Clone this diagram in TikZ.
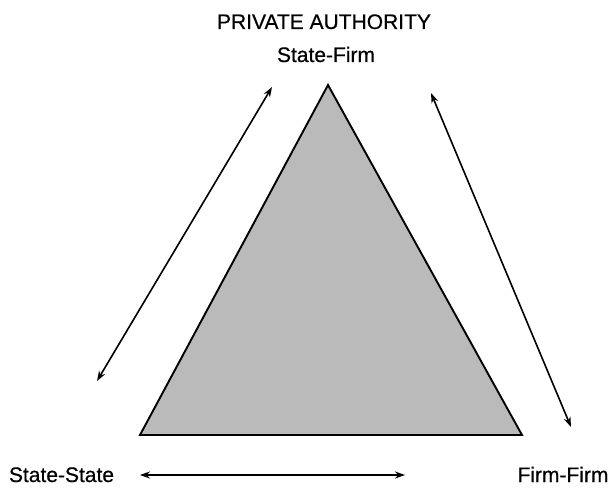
\documentclass[tikz,border=0pt]{standalone}
\usepackage{fontspec}
\setmainfont{Liberation Sans}
\newfontfamily\lblfont{Liberation Sans}[FakeBold=0.5]
\usetikzlibrary{arrows.meta}
\begin{document}
\begin{tikzpicture}[x=1pt,y=-1pt,
  lbl/.style={font=\lblfont\fontsize{21}{25}\selectfont, inner sep=0pt, anchor=base},
  conn/.style={line width=1.6pt, {Stealth[length=10pt,width=7pt]}-{Stealth[length=10pt,width=7pt]}},
  tri/.style={draw=black, line width=1.9pt, fill=black!27, line join=miter}]
\useasboundingbox (0,0) rectangle (612,487);
\coordinate (A) at (328,85);
\coordinate (B) at (140,435);
\coordinate (C) at (522,435);
\filldraw[tri] (A) -- (B) -- (C) -- cycle;
\node[lbl] (pa) at (324,29) {PRIVATE AUTHORITY};
\node[lbl] (sf) at (326,62) {State-Firm};
\node[lbl] (ss) at (61.5,482) {State-State};
\node[lbl] (ff) at (563,482) {Firm-Firm};
\coordinate (l1) at (97,381);
\coordinate (l2) at (272,87);
\coordinate (r1) at (571,427);
\coordinate (r2) at (431,93);
\coordinate (b1) at (140,475);
\coordinate (b2) at (405,475);
\draw[conn] (l1) -- (l2);
\draw[conn] (r1) -- (r2);
\draw[conn] (b1) -- (b2);
\end{tikzpicture}
\end{document}
